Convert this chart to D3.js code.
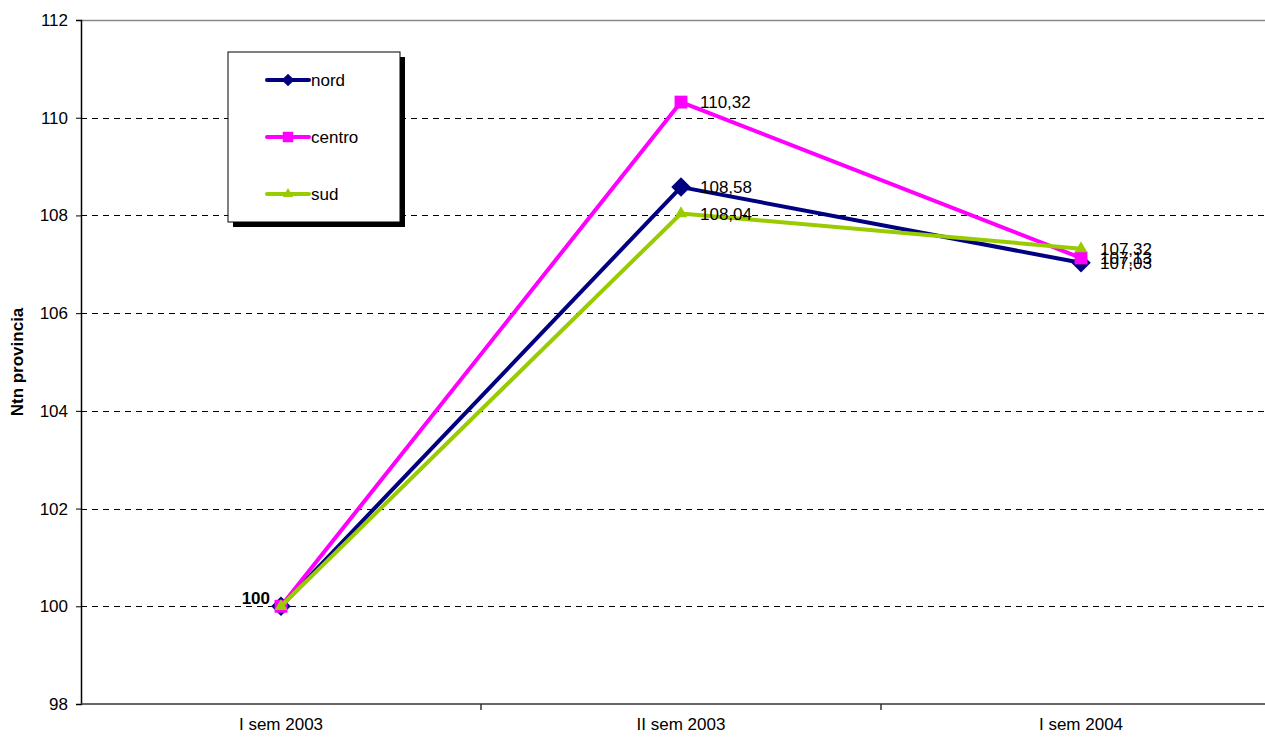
<!DOCTYPE html>
<html>
<head>
<meta charset="utf-8">
<script src="https://cdn.jsdelivr.net/npm/d3@7"></script>
<style>
  html, body { margin: 0; padding: 0; background: #fff; overflow: hidden; }
  text { font-family: Arial, "Liberation Sans", sans-serif; }
</style>
</head>
<body>
<svg id="chart" width="1265" height="738"></svg>
<script>
// Semesters on the x axis
const categories = ["I sem 2003", "II sem 2003", "I sem 2004"];

// Index values (base 100 = I sem 2003)
const nord = [100, 108.58, 107.03];
const centro = [100, 110.32, 107.13];
const sud = [100, 108.04, 107.32];

const yTicks = [98, 100, 102, 104, 106, 108, 110, 112];

// Square rotated 45° for the "nord" markers
const diamond = {
  draw(ctx, size) {
    const r = Math.sqrt(size / 2);
    ctx.moveTo(0, -r); ctx.lineTo(r, 0); ctx.lineTo(0, r); ctx.lineTo(-r, 0); ctx.closePath();
  }
};

const seriesList = [
  { name: "nord", values: nord, color: "#000080", symbol: diamond, size: 190, legendSize: 80 },
  { name: "centro", values: centro, color: "#FF00FF", symbol: d3.symbolSquare, size: 165, legendSize: 110 },
  { name: "sud", values: sud, color: "#99CC00", symbol: d3.symbolTriangle, size: 70, legendSize: 45 }
];

const svg = d3.select("#chart");
const plot = { left: 81, right: 1281, top: 20, bottom: 704 };

const x = d3.scalePoint().domain(categories).range([plot.left, plot.right]).padding(0.5);
const xBand = d3.scaleBand().domain(categories).range([plot.left, plot.right]);
const y = d3.scaleLinear().domain([98, 112]).range([plot.bottom, plot.top]);

// Plot area top border
svg.append("line")
  .attr("x1", plot.left).attr("x2", plot.right)
  .attr("y1", y(112) + 0.5).attr("y2", y(112) + 0.5)
  .attr("stroke", "#888").attr("stroke-width", 1.5);

// Dashed horizontal gridlines
svg.append("g")
  .selectAll("line")
  .data(yTicks.filter(t => t > 98 && t < 112))
  .join("line")
  .attr("x1", plot.left).attr("x2", plot.right)
  .attr("y1", d => Math.round(y(d)) + 0.5).attr("y2", d => Math.round(y(d)) + 0.5)
  .attr("stroke", "#000").attr("stroke-width", 1)
  .attr("stroke-dasharray", "6,5");

// Y axis
const yAxis = d3.axisLeft(y).tickValues(yTicks).tickSize(5).tickPadding(8).tickFormat(d3.format("d"));
const gy = svg.append("g").attr("transform", `translate(${plot.left},0)`).call(yAxis);
gy.select(".domain").attr("stroke", "#000").attr("stroke-width", 1.5);
gy.selectAll(".tick line").attr("stroke", "#000");
gy.selectAll(".tick text").attr("font-size", 17).attr("fill", "#000")
  .attr("font-family", "Arial, 'Liberation Sans', sans-serif");

// X axis: ticks between categories, labels centered
const gx = svg.append("g").attr("transform", `translate(0,${plot.bottom})`);
gx.append("line")
  .attr("x1", plot.left).attr("x2", plot.right)
  .attr("stroke", "#333").attr("stroke-width", 1.5);
gx.selectAll("line.tk")
  .data(categories)
  .join("line").attr("class", "tk")
  .attr("x1", d => xBand(d) + xBand.bandwidth()).attr("x2", d => xBand(d) + xBand.bandwidth())
  .attr("y1", 0).attr("y2", 6)
  .attr("stroke", "#333").attr("stroke-width", 1.5);
gx.selectAll("text")
  .data(categories)
  .join("text")
  .attr("x", d => x(d)).attr("y", 26)
  .attr("text-anchor", "middle")
  .attr("font-size", 17)
  .text(d => d);

// Y axis title
svg.append("text")
  .attr("transform", `translate(23,${(plot.top + plot.bottom) / 2}) rotate(-90)`)
  .attr("text-anchor", "middle")
  .attr("font-size", 17).attr("font-weight", "bold")
  .text("Ntn provincia");

// Series lines and markers
const line = d3.line().x((d, i) => x(categories[i])).y(d => y(d));

seriesList.forEach(s => {
  svg.append("path")
    .datum(s.values)
    .attr("d", line)
    .attr("fill", "none")
    .attr("stroke", s.color)
    .attr("stroke-width", 4)
    .attr("stroke-linejoin", "round");
  svg.append("g")
    .selectAll("path")
    .data(s.values)
    .join("path")
    .attr("transform", (d, i) => `translate(${x(categories[i])},${y(d)})`)
    .attr("d", d3.symbol().type(s.symbol).size(s.size))
    .attr("fill", s.color);
});

// Value labels (first point shared by all series)
const fmt = v => d3.format(".2f")(v).replace(".", ",");
seriesList.forEach(s => {
  svg.append("g")
    .selectAll("text")
    .data(s.values.slice(1))
    .join("text")
    .attr("x", (d, i) => x(categories[i + 1]) + 19)
    .attr("y", d => y(d))
    .attr("dy", "0.36em")
    .attr("font-size", 17)
    .text(d => fmt(d));
});
svg.append("text")
  .attr("x", x(categories[0]) - 11)
  .attr("y", y(nord[0]) - 2)
  .attr("text-anchor", "end")
  .attr("font-size", 17).attr("font-weight", "bold")
  .text(d3.format("d")(nord[0]));

// Legend box with drop shadow
const lg = svg.append("g").attr("transform", "translate(228,52)");
lg.append("rect").attr("x", 5).attr("y", 5).attr("width", 172).attr("height", 170).attr("fill", "#000");
lg.append("rect").attr("x", 0).attr("y", 0).attr("width", 172).attr("height", 170)
  .attr("fill", "#fff").attr("stroke", "#000").attr("stroke-width", 1);
seriesList.forEach((s, i) => {
  const ly = 28 + i * 57;
  lg.append("line").attr("x1", 39).attr("x2", 81).attr("y1", ly).attr("y2", ly)
    .attr("stroke", s.color).attr("stroke-width", 4).attr("stroke-linecap", "round");
  lg.append("path").attr("transform", `translate(60,${ly})`)
    .attr("d", d3.symbol().type(s.symbol).size(s.legendSize)).attr("fill", s.color);
  lg.append("text").attr("x", 83).attr("y", ly).attr("dy", "0.36em")
    .attr("font-size", 17).text(s.name);
});
</script>
</body>
</html>
